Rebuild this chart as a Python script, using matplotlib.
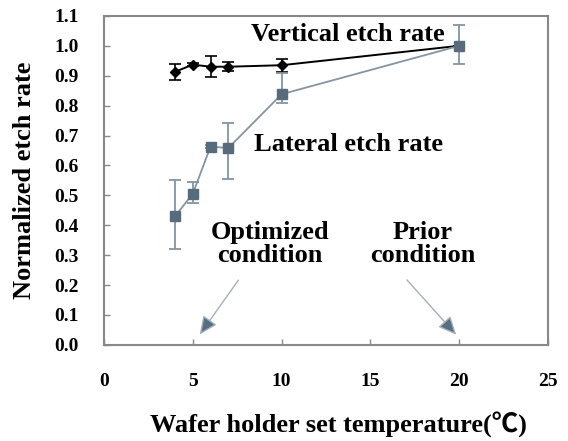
import matplotlib.pyplot as plt
import numpy as np

# dados
temperaturas = [4, 5, 6, 7, 10, 20]

vertical = [0.913, 0.937, 0.93, 0.93, 0.935, 1.0]
vertical_err = [0.027, 0.005, 0.035, 0.015, 0.022, 0.0]

lateral = [0.43, 0.505, 0.663, 0.658, 0.838, 1.0]
lateral_err_baixo = [0.11, 0.03, 0.005, 0.105, 0.03, 0.06]
lateral_err_cima = [0.12, 0.04, 0.005, 0.085, 0.07, 0.07]

xticks = [0, 5, 10, 15, 20, 25]
yticks = np.round(np.arange(0, 1.11, 0.1), 1)

fonte = ['Liberation Serif', 'Noto Sans CJK JP']


def gerar_grafico():
    fig = plt.figure(figsize=(5.68, 4.41), dpi=100)
    ax = fig.add_axes([0.183, 0.218, 0.782, 0.746])

    cor_lat = '#8494a3'
    cor_marc = '#586b7c'

    ax.errorbar(temperaturas, vertical, yerr=vertical_err,
                color='black', lw=1.4, marker='D', ms=5,
                ecolor='black', elinewidth=1.2, capsize=4, capthick=1.2,
                zorder=2)

    ax.errorbar(temperaturas, lateral,
                yerr=[lateral_err_baixo, lateral_err_cima],
                color=cor_lat, lw=1.3, marker='s', ms=7,
                mfc=cor_marc, mec=cor_marc,
                ecolor=cor_lat, elinewidth=1.3, capsize=4, capthick=1.3,
                zorder=3)

    ax.set_xlim(0, 25)
    ax.set_ylim(0, 1.1)
    ax.set_xticks(xticks)
    ax.set_yticks(yticks)
    ax.set_yticklabels([f'{v:.1f}' for v in yticks])
    ax.tick_params(direction='in', length=4, width=1, color='#888888',
                   top=False, right=False, labelsize=14)
    ax.tick_params(axis='x', pad=20)
    ax.tick_params(axis='y', pad=18)
    for lab in ax.get_xticklabels() + ax.get_yticklabels():
        lab.set_fontfamily(fonte)
        lab.set_fontweight('bold')
    for sp in ax.spines.values():
        sp.set_color('#888888')
        sp.set_linewidth(1.5)

    ax.set_ylabel('Normalized etch rate', fontsize=19, fontweight='bold',
                  family=fonte, va='center')
    ax.yaxis.set_label_coords(-0.178, 0.5)
    ax.set_xlabel('Wafer holder set temperature(℃)', fontsize=19,
                  fontweight='bold', family=fonte, va='center')
    ax.xaxis.set_label_coords(0.527, -0.243)

    ax.text(13.7, 1.037, 'Vertical etch rate', fontsize=19, fontweight='bold',
            family=fonte, ha='center', va='center')
    ax.text(13.77, 0.669, 'Lateral etch rate', fontsize=19, fontweight='bold',
            family=fonte, ha='center', va='center')
    ax.text(9.35, 0.338, 'Optimized\ncondition', fontsize=19, fontweight='bold',
            family=fonte, ha='center', va='center', linespacing=1.0)
    ax.text(17.96, 0.338, 'Prior\ncondition', fontsize=19, fontweight='bold',
            family=fonte, ha='center', va='center', linespacing=1.0)

    seta = dict(arrowstyle='-|>,head_length=1.1,head_width=0.5',
                color='#a3b0bb', lw=1.0, fc='#56707f', ec='#a3b0bb')
    ax.annotate('', xy=(5.3, 0.027), xytext=(7.66, 0.224), arrowprops=seta)
    ax.annotate('', xy=(19.93, 0.027), xytext=(16.95, 0.224), arrowprops=seta)

    plt.savefig('out.png', dpi=100)


if __name__ == '__main__':
    gerar_grafico()
